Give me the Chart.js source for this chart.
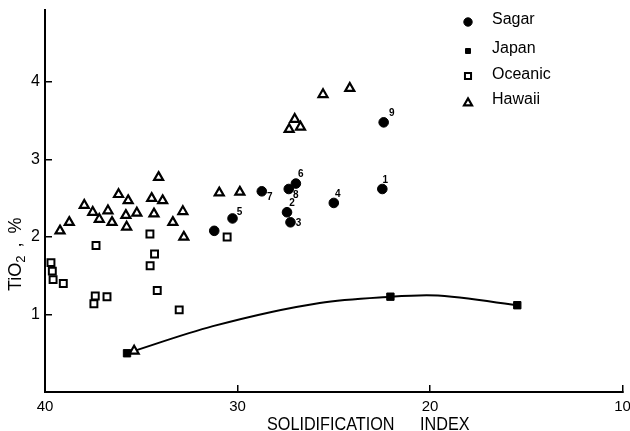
<!DOCTYPE html>
<html>
<head>
<meta charset="utf-8">
<script src="https://cdn.jsdelivr.net/npm/chart.js@4.4.0/dist/chart.umd.min.js"></script>
<style>
  body { margin: 0; background: #fff; }
  #wrap { width: 630px; height: 431px; position: relative; }
</style>
</head>
<body>
<div id="wrap"><canvas id="chart"></canvas></div>
<script>
// Sagar samples, numbered 1-9 (last one has no number)
const sagarX = [22.48, 27.43, 27.25, 25.0, 30.26, 26.97, 28.74, 27.34, 22.41, 31.21];
const sagarY = [2.62, 2.32, 2.19, 2.44, 2.24, 2.69, 2.59, 2.62, 3.48, 2.08];
const sagarLabels = ['1', '2', '3', '4', '5', '6', '7', '8', '9', ''];

// Japan samples and the trend curve through them
const japanX = [35.74, 22.06, 15.47];
const japanY = [0.50, 1.23, 1.12];
const curveX = [35.74, 31.28, 25.73, 22.06, 20.18, 15.47];
const curveY = [0.50, 0.85, 1.15, 1.23, 1.25, 1.12];

// Oceanic
const oceanicX = [39.69, 39.62, 39.58, 39.05, 37.35, 37.39, 37.46, 36.78, 34.55, 34.54, 34.31, 34.17, 33.03, 30.54];
const oceanicY = [1.67, 1.56, 1.45, 1.40, 1.89, 1.24, 1.14, 1.23, 2.04, 1.63, 1.78, 1.31, 1.06, 2.00];

// Hawaii
const hawaiiX = [39.22, 38.74, 37.96, 37.52, 37.18, 36.73, 36.52, 36.18, 35.68, 35.80, 35.76, 35.23, 34.46, 34.10,
                 33.89, 34.34, 33.36, 32.84, 32.79, 30.95, 29.88, 27.32, 27.03, 26.73, 25.56, 24.17, 35.37];
const hawaiiY = [2.08, 2.19, 2.41, 2.32, 2.23, 2.34, 2.19, 2.55, 2.47, 2.28, 2.13, 2.31, 2.50, 2.77,
                 2.47, 2.30, 2.19, 2.33, 2.00, 2.57, 2.58, 3.39, 3.52, 3.42, 3.84, 3.92, 0.53];

const xTicks = [40, 30, 20, 10];
const yTicks = [1, 2, 3, 4];
const seriesNames = ['Sagar', 'Japan', 'Oceanic', 'Hawaii'];

const FONT = '"Liberation Sans", Arial, sans-serif';

function pts(xs, ys) {
    return xs.map((x, i) => ({x: x, y: ys[i]}));
}

// where the little numbers sit next to the Sagar dots (px)
const labelOffsets = {
    '1': [3, -9], '2': [5, -9], '3': [8, 1], '4': [4, -9], '5': [7, -6],
    '6': [5, -9], '7': [8, 6], '8': [7, 6], '9': [8, -9]
};

// marker styles, shared by chart and legend
const markers = [
    {pointStyle: 'circle', radius: 4.8, fill: '#000', border: 1},
    {pointStyle: 'rect', radius: 5.2, fill: '#000', border: 1},
    {pointStyle: 'rect', radius: 4.9, fill: '#fff', border: 2},
    {pointStyle: 'triangle', radius: 5.2, fill: '#fff', border: 2.2}
];

const extras = {
    id: 'extras',
    afterDatasetsDraw(chart) {
        const ctx = chart.ctx;
        ctx.save();
        ctx.fillStyle = '#000';

        // numbers next to Sagar points
        ctx.font = 'bold 10px ' + FONT;
        ctx.textAlign = 'center';
        ctx.textBaseline = 'middle';
        chart.getDatasetMeta(1).data.forEach((p, i) => {
            const lab = sagarLabels[i];
            if (!lab) return;
            const o = labelOffsets[lab];
            ctx.fillText(lab, p.x + o[0], p.y + o[1]);
        });

        // legend
        const legendY = [22, 51, 76, 103];
        const textY = [24, 53, 79, 104];
        seriesNames.forEach((name, i) => {
            const m = markers[i];
            ctx.fillStyle = m.fill;
            ctx.strokeStyle = '#000';
            ctx.lineWidth = m.border;
            Chart.helpers.drawPoint(ctx, {pointStyle: m.pointStyle, radius: i == 1 ? 3.5 : m.radius - 0.6, rotation: 0, borderWidth: m.border}, 468, legendY[i]);
            ctx.fillStyle = '#000';
            ctx.font = '16px ' + FONT;
            ctx.textAlign = 'left';
            ctx.textBaseline = 'alphabetic';
            ctx.fillText(name, 492, textY[i]);
        });

        // x axis title (narrow letters, like the original)
        ctx.save();
        ctx.font = '18px ' + FONT;
        ctx.textAlign = 'left';
        ctx.translate(267, 430);
        ctx.scale(0.9, 1);
        ctx.fillText('SOLIDIFICATION', 0, 0);
        ctx.fillText('INDEX', (420 - 267) / 0.9, 0);
        ctx.restore();

        // y axis title, rotated, with subscript 2
        ctx.translate(21, 291);
        ctx.rotate(-Math.PI / 2);
        ctx.font = '18px ' + FONT;
        ctx.fillText('TiO', 0, 0);
        let w = ctx.measureText('TiO').width;
        ctx.font = '13px ' + FONT;
        ctx.fillText('2', w, 4);
        w += ctx.measureText('2').width;
        ctx.font = '18px ' + FONT;
        ctx.fillText(',', w + 8, 0);
        ctx.fillText('%', w + 22, 0);
        ctx.restore();
    }
};

const cfg = {
    type: 'scatter',
    data: {
        datasets: [{
            label: 'curve',
            data: pts(curveX, curveY),
            showLine: true,
            borderColor: '#000',
            borderWidth: 2,
            pointRadius: 0,
            cubicInterpolationMode: 'monotone',
            order: 5
        }, {
            label: seriesNames[0],
            data: pts(sagarX, sagarY),
            pointStyle: markers[0].pointStyle,
            pointRadius: markers[0].radius,
            backgroundColor: markers[0].fill,
            borderColor: '#000',
            borderWidth: markers[0].border
        }, {
            label: seriesNames[1],
            data: pts(japanX, japanY),
            pointStyle: markers[1].pointStyle,
            pointRadius: markers[1].radius,
            backgroundColor: markers[1].fill,
            borderColor: '#000',
            borderWidth: markers[1].border
        }, {
            label: seriesNames[2],
            data: pts(oceanicX, oceanicY),
            pointStyle: markers[2].pointStyle,
            pointRadius: markers[2].radius,
            backgroundColor: markers[2].fill,
            borderColor: '#000',
            borderWidth: markers[2].border
        }, {
            label: seriesNames[3],
            data: pts(hawaiiX, hawaiiY),
            pointStyle: markers[3].pointStyle,
            pointRadius: markers[3].radius,
            backgroundColor: markers[3].fill,
            borderColor: '#000',
            borderWidth: markers[3].border
        }]
    },
    options: {
        responsive: true,
        maintainAspectRatio: false,
        animation: false,
        layout: {padding: {top: 10, right: 7, left: 0, bottom: 0}},
        plugins: {legend: {display: false}, tooltip: {enabled: false}},
        scales: {
            x: {
                type: 'linear', min: 10, max: 40, reverse: true,
                border: {display: true, color: '#000', width: 2},
                grid: {display: true, drawOnChartArea: false, color: '#000', lineWidth: 1.5, tickLength: -7},
                afterBuildTicks(s) { s.ticks = xTicks.map(v => ({value: v})); },
                ticks: {color: '#000', font: {family: FONT, size: 15}, padding: 13, maxRotation: 0, autoSkip: false},
                afterFit(s) { s.height = 39; s.paddingLeft = 0; s.paddingRight = 0; }
            },
            y: {
                type: 'linear', min: 0, max: 4.93,
                border: {display: true, color: '#000', width: 2},
                grid: {display: true, drawOnChartArea: false, color: '#000', lineWidth: 1.5, tickLength: -7},
                afterBuildTicks(s) { s.ticks = yTicks.map(v => ({value: v})); },
                ticks: {color: '#000', font: {family: FONT, size: 16}, padding: 12, autoSkip: false},
                afterFit(s) { s.width = 45; s.paddingTop = 0; s.paddingBottom = 0; }
            }
        }
    },
    plugins: [extras]
};

const chart1 = new Chart(document.getElementById('chart'), cfg);
</script>
</body>
</html>
